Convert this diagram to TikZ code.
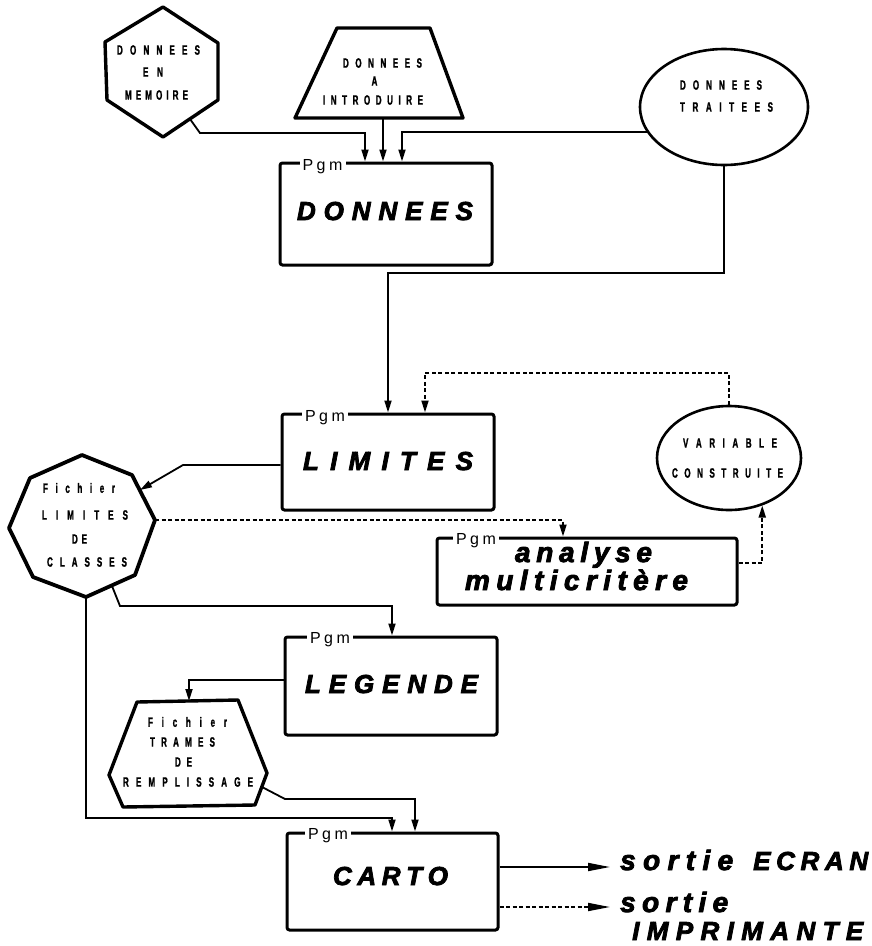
\documentclass[tikz,border=0pt]{standalone}
\usepackage{fontspec}
\setmainfont{Liberation Sans}
\newfontfamily\lblfont[FakeStretch=0.6,FakeBold=1.2]{Liberation Sans}
\newfontfamily\ttlfont[FakeBold=3]{Liberation Sans}
\usetikzlibrary{arrows.meta,shapes.geometric}
\newcommand\spread[2]{\makebox[#1][s]{\spreadA#2\relax}}
\def\spreadA#1{#1\spreadB}
\def\spreadB#1{\ifx#1\relax\else\hfil#1\expandafter\spreadB\fi}
\begin{document}
\begin{tikzpicture}[x=1pt,y=-1pt,
  pbox/.style={draw, line width=3pt, rounded corners=2.5pt, inner sep=0pt},
  shp/.style={draw, line width=3.4pt, line join=round},
  ell/.style={draw, ellipse, line width=2.6pt, inner sep=0pt},
  conn/.style={line width=1.8pt},
  arr/.style={conn, -{Triangle[length=12pt,width=7pt]}},
  darr/.style={arr, dash pattern=on 4pt off 2.5pt},
  outarr/.style={conn, -{Triangle[length=22pt,width=8pt]}},
  lbl/.style={inner sep=0pt, font=\lblfont\bfseries\fontsize{13.5}{13.5}\selectfont},
  ttl/.style={inner sep=0pt, anchor=base, font=\ttlfont\bfseries\itshape\fontsize{26}{26}\selectfont},
  ttls/.style={ttl, font=\ttlfont\bfseries\itshape\fontsize{28}{28}\selectfont},
  pgm/.style={anchor=base, fill=white, inner xsep=3pt, inner ysep=1pt, font=\fontsize{16}{16}\selectfont},
]
\useasboundingbox (0,0) rectangle (872,946);

% ---------- shapes ----------
\draw[shp] (163,7) -- (218,43) -- (218,100) -- (163,137) -- (107,100) -- (105,42) -- cycle;
\coordinate (hexout) at (190,119);
\draw[shp] (337,28) -- (430,28) -- (463,118) -- (295,118) -- cycle;
\coordinate (trapout) at (383,118);
\node[ell, minimum width=168pt, minimum height=116pt] (etr) at (724,107) {};
\node[ell, minimum width=144pt, minimum height=104pt] (evc) at (729,458) {};
\draw[shp, line width=3.8pt] (82,455) -- (132,475) -- (155,520) -- (135,575) -- (86,597) -- (33,577) -- (9,528) -- (30,478) -- cycle;
\coordinate (hepA) at (140,490);
\coordinate (hepR) at (155,520);
\coordinate (hepLR) at (112,586);
\coordinate (hepB) at (86,597);
\draw[shp] (137,702) -- (238,700) -- (267,773) -- (255,805) -- (123,807) -- (109,775) -- cycle;
\coordinate (trT) at (189,701);
\coordinate (trR) at (262,787);

\node[pbox, minimum width=212pt, minimum height=102pt] (bdon) at (386,214) {};
\node[pbox, minimum width=212pt, minimum height=96pt] (blim) at (388,462) {};
\node[pbox, minimum width=300pt, minimum height=67pt] (bana) at (587,571.5) {};
\node[pbox, minimum width=212pt, minimum height=98pt] (bleg) at (391,686) {};
\node[pbox, minimum width=211pt, minimum height=97pt] (bcar) at (392.5,881.5) {};

% ---------- connectors ----------
\coordinate (a1) at (365,133);
\draw[arr] (hexout) -- (200,133) -- (a1) -- (a1 |- bdon.north);
\draw[arr] (trapout) -- (trapout |- bdon.north);
\coordinate (a3) at (402,0);
\draw[arr] (etr.198) -- (etr.198 -| a3) -- (a3 |- bdon.north);
\coordinate (a4) at (388,273);
\draw[arr] (etr.south) -- (etr.south |- a4) -- (a4) -- (a4 |- blim.north);
\coordinate (a5) at (425,373);
\draw[darr] (evc.north) -- (evc.north |- a5) -- (a5) -- (a5 |- blim.north);
\coordinate (a6) at (762,563);
\draw[darr] (a6 -| bana.east) -- (a6 -| evc.305) -- (evc.305);
\coordinate (a7) at (183,465);
\draw[arr] (a7 -| blim.west) -- (a7) -- (hepA);
\coordinate (a8) at (563,0);
\draw[darr] (hepR) -- (hepR -| a8) -- (a8 |- bana.north);
\coordinate (a9) at (120,606);
\coordinate (a10) at (392,606);
\draw[arr] (hepLR) -- (a9) -- (a10) -- (a10 |- bleg.north);
\coordinate (a11) at (392,818);
\draw[arr] (hepB) -- (hepB |- a11) -- (a11) -- (a11 |- bcar.north);
\coordinate (a12) at (189,680);
\draw[arr] (a12 -| bleg.west) -- (a12) -- (trT);
\coordinate (a13) at (285,799);
\coordinate (a14) at (415,799);
\draw[arr] (trR) -- (a13) -- (a14) -- (a14 |- bcar.north);
\coordinate (o1) at (610,867);
\draw[outarr] (o1 -| bcar.east) -- (o1);
\coordinate (o2) at (610,907);
\draw[outarr, dash pattern=on 4pt off 2.5pt] (o2 -| bcar.east) -- (o2);

% ---------- Pgm labels ----------
\node[pgm] (p1) at (322.5,170) {\spread{40pt}{Pgm}};
\node[pgm] (p2) at (325,421) {\spread{40pt}{Pgm}};
\node[pgm] (p3) at (476,544) {\spread{40pt}{Pgm}};
\node[pgm] (p4) at (330,643) {\spread{40pt}{Pgm}};
\node[pgm] (p5) at (328,839) {\spread{40pt}{Pgm}};

% ---------- titles ----------
\node[ttl] (t1) at (385,220) {\spread{176pt}{DONNEES}};
\node[ttl] (t2) at (388,470) {\spread{170pt}{LIMITES}};
\node[ttls] (t3) at (583.5,562) {\spread{137pt}{analyse}};
\node[ttls] (t4) at (576.5,590) {\spread{223pt}{multicritère}};
\node[ttl] (t5) at (391.5,693) {\spread{173pt}{LEGENDE}};
\node[ttl] (t6) at (390.5,885) {\spread{115pt}{CARTO}};
\node[ttl, anchor=base west] (t7) at (620,870) {{\fontsize{28}{28}\selectfont\spread{113pt}{sortie}}\hspace{20pt}\spread{115pt}{ECRAN}};
\node[ttls, anchor=base west] (t8) at (620,912) {\spread{108pt}{sortie}};
\node[ttl, anchor=base west] (t9) at (632,940) {\spread{231pt}{IMPRIMANTE}};

% ---------- small labels ----------
\node[lbl] (h1) at (158.5,50) {\spread{83pt}{DONNEES}};
\node[lbl] (h2) at (153,72) {\spread{20pt}{EN}};
\node[lbl] (h3) at (156.5,95) {\spread{63pt}{MEMOIRE}};
\node[lbl] (z1) at (382.5,63) {\spread{79pt}{DONNEES}};
\node[lbl] (z2) at (374.5,81) {A};
\node[lbl] (z3) at (373,100) {\spread{100pt}{INTRODUIRE}};
\node[lbl] (e1) at (721,85) {\spread{82pt}{DONNEES}};
\node[lbl] (e2) at (726.5,107) {\spread{93pt}{TRAITEES}};
\node[lbl] (v1) at (730,443) {\spread{94pt}{VARIABLE}};
\node[lbl] (v2) at (727.5,473) {\spread{111pt}{CONSTRUITE}};
\node[lbl] (f1) at (79,488) {\spread{72pt}{Fichier}};
\node[lbl] (f2) at (85,515) {\spread{86pt}{LIMITES}};
\node[lbl] (f3) at (79.5,539) {\spread{15pt}{DE}};
\node[lbl] (f4) at (87,562) {\spread{80pt}{CLASSES}};
\node[lbl] (r1) at (187.5,722) {\spread{79pt}{Fichier}};
\node[lbl] (r2) at (182.5,742) {\spread{65pt}{TRAMES}};
\node[lbl] (r3) at (183.5,762) {\spread{17pt}{DE}};
\node[lbl] (r4) at (188,782) {\spread{130pt}{REMPLISSAGE}};
\end{tikzpicture}
\end{document}
